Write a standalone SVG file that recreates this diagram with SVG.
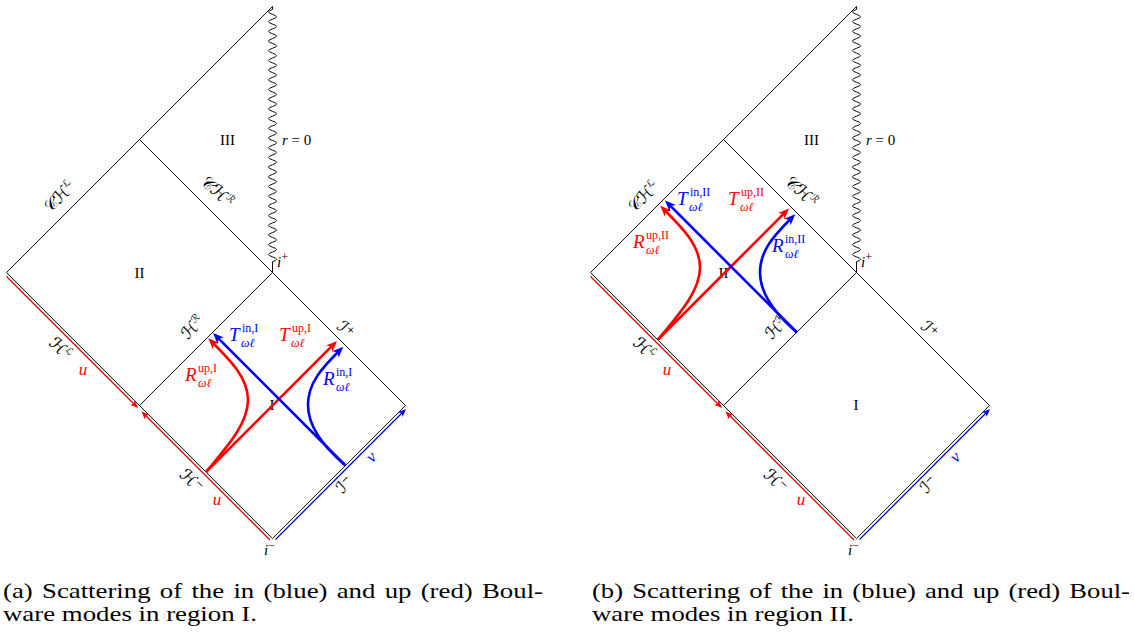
<svg xmlns="http://www.w3.org/2000/svg" width="1134" height="635" viewBox="0 0 1134 635">
<style>
.ln{fill:none;stroke:#000;stroke-width:0.95}
.rt{fill:none;stroke:#f00;stroke-width:1.3}
.bt{fill:none;stroke:#00f;stroke-width:1.3}
.rm{fill:none;stroke:#f00;stroke-width:2.6}
.bm{fill:none;stroke:#00f;stroke-width:2.6}
text{font-family:"Liberation Serif",serif}
.rn{font-size:15px;fill:#000}
.mi{font-style:italic}
.uv{font-size:17px}
.cal{font-family:"DejaVu Sans",sans-serif;font-size:17px;fill:#000}
.csup{font-size:10px}
.big{font-size:19px;font-style:italic}
.sm{font-size:12px}
.red{fill:#f00}
.blue{fill:#00f}
.cap{font-size:21px;fill:#000}
</style>
<defs>
<marker id="ahR" markerUnits="userSpaceOnUse" markerWidth="12" markerHeight="10" viewBox="0 -5 12 10" refX="5" refY="0" orient="auto"><path d="M0,-4.5 L11,0 L0,4.5 L3,0 z" fill="#f00"/></marker>
<marker id="ahB" markerUnits="userSpaceOnUse" markerWidth="12" markerHeight="10" viewBox="0 -5 12 10" refX="5" refY="0" orient="auto"><path d="M0,-4.5 L11,0 L0,4.5 L3,0 z" fill="#00f"/></marker>
<marker id="asR" markerUnits="userSpaceOnUse" markerWidth="9" markerHeight="8" viewBox="0 -4 9 8" refX="4" refY="0" orient="auto"><path d="M0,-3.2 L8,0 L0,3.2 L2,0 z" fill="#f00"/></marker>
<marker id="asB" markerUnits="userSpaceOnUse" markerWidth="9" markerHeight="8" viewBox="0 -4 9 8" refX="4" refY="0" orient="auto"><path d="M0,-3.2 L8,0 L0,3.2 L2,0 z" fill="#00f"/></marker>
</defs>

<!-- ============ Diagram (a) ============ -->
<g id="diagram-a">
  <g id="spacetime-a">
    <path class="ln" d="M6.5,272.5 L272.5,6.5 M139.5,139.5 L405.5,405.5 L272.5,538.5 L6.5,272.5 M139.5,405.5 L272.5,272.5"/>
    <path class="ln" d="M272.5,6.5 v3 q-8,2.425 0,4.85 t0,4.85 t0,4.85 t0,4.85 t0,4.85 t0,4.85 t0,4.85 t0,4.85 t0,4.85 t0,4.85 t0,4.85 t0,4.85 t0,4.85 t0,4.85 t0,4.85 t0,4.85 t0,4.85 t0,4.85 t0,4.85 t0,4.85 t0,4.85 t0,4.85 t0,4.85 t0,4.85 t0,4.85 t0,4.85 t0,4.85 t0,4.85 t0,4.85 t0,4.85 t0,4.85 t0,4.85 t0,4.85 t0,4.85 t0,4.85 t0,4.85 t0,4.85 t0,4.85 t0,4.85 t0,4.85 t0,4.85 t0,4.85 t0,4.85 t0,4.85 t0,4.85 t0,4.85 t0,4.85 t0,4.85 t0,4.85 t0,4.85 t0,4.85 t0,4.85 L272.5,272.5"/>
    <path class="rt" d="M6.5,276.5 L135.2,405.2" marker-end="url(#asR)"/>
    <path class="rt" d="M270,540 L144.3,414.3" marker-end="url(#asR)"/>
    <path class="bt" d="M275.5,539.5 L403.2,411.8" marker-end="url(#asB)"/>
  </g>
  <g id="labels-a">
    <text class="rn" x="139.5" y="278" text-anchor="middle">II</text>
    <text class="rn" x="227.5" y="145" text-anchor="middle">III</text>
    <text class="rn" x="272" y="410" text-anchor="middle">I</text>
    <text class="rn" x="282" y="145"><tspan class="mi">r</tspan> = 0</text>
    <text class="rn" x="277" y="267"><tspan class="mi">i</tspan><tspan class="sm" dy="-6">+</tspan></text>
    <text class="rn" x="264" y="555"><tspan class="mi">i</tspan><tspan class="sm" dy="-6">−</tspan></text>
    <g transform="translate(60,197) rotate(-45)"><text class="cal" text-anchor="middle" y="5">𝒞ℋ<tspan class="csup" dy="-7">ℒ</tspan></text></g>
    <g transform="translate(217,192) rotate(45)"><text class="cal" text-anchor="middle" y="5">𝒞ℋ<tspan class="csup" dy="-7">ℛ</tspan></text></g>
    <g transform="translate(193,328) rotate(-45)"><text class="cal" text-anchor="middle" y="5">ℋ<tspan class="csup" dy="-7">ℛ</tspan></text></g>
    <g transform="translate(345,330) rotate(45)"><text class="cal" text-anchor="middle" y="5">ℐ<tspan class="csup" dy="-6">+</tspan></text></g>
    <g transform="translate(60,349) rotate(45)"><text class="cal" text-anchor="middle" y="5">ℋ<tspan class="csup" dy="-7">ℒ</tspan></text></g>
    <g transform="translate(191,481) rotate(45)"><text class="cal" text-anchor="middle" y="5">ℋ<tspan class="csup" dy="-6">−</tspan></text></g>
    <g transform="translate(345,485) rotate(-45)"><text class="cal" text-anchor="middle" y="5">ℐ<tspan class="csup" dy="-6">−</tspan></text></g>
    <text class="rn uv mi red" x="83" y="375" text-anchor="middle">u</text>
    <text class="rn uv mi red" x="217" y="505" text-anchor="middle">u</text>
    <g transform="translate(372,458) rotate(-45)"><text class="rn uv mi blue" text-anchor="middle" y="4">v</text></g>
  </g>
  <g id="modes-a">
    <path class="rm" d="M206,472 L332.8,345.2" marker-end="url(#ahR)"/>
    <path class="rm" d="M206,472 C224,450 248,425 248,400 C248,378 230.5,360.5 212.5,342.5" marker-end="url(#ahR)"/>
    <path class="bm" d="M345,465 L217.2,337.2" marker-end="url(#ahB)"/>
    <path class="bm" d="M345,465 C325,448 308,428 308,405 C308,383 322,368 339,351" marker-end="url(#ahB)"/>
  </g>
  <g id="mode-labels-a">
    <text class="blue"><tspan class="big" x="229" y="341">T</tspan><tspan class="sm" x="242" y="332">in,I</tspan><tspan class="sm mi" x="241" y="347">ωℓ</tspan></text>
    <text class="red"><tspan class="big" x="279" y="341">T</tspan><tspan class="sm" x="292" y="332">up,I</tspan><tspan class="sm mi" x="291" y="347">ωℓ</tspan></text>
    <text class="red"><tspan class="big" x="185" y="381">R</tspan><tspan class="sm" x="198" y="372">up,I</tspan><tspan class="sm mi" x="198" y="387">ωℓ</tspan></text>
    <text class="blue"><tspan class="big" x="323" y="385">R</tspan><tspan class="sm" x="336" y="376">in,I</tspan><tspan class="sm mi" x="336" y="391">ωℓ</tspan></text>
  </g>
</g>

<!-- ============ Diagram (b) ============ -->
<g id="diagram-b">
  <g id="spacetime-b" transform="translate(584,0)">
    <path class="ln" d="M6.5,272.5 L272.5,6.5 M139.5,139.5 L405.5,405.5 L272.5,538.5 L6.5,272.5 M139.5,405.5 L272.5,272.5"/>
    <path class="ln" d="M272.5,6.5 v3 q-8,2.425 0,4.85 t0,4.85 t0,4.85 t0,4.85 t0,4.85 t0,4.85 t0,4.85 t0,4.85 t0,4.85 t0,4.85 t0,4.85 t0,4.85 t0,4.85 t0,4.85 t0,4.85 t0,4.85 t0,4.85 t0,4.85 t0,4.85 t0,4.85 t0,4.85 t0,4.85 t0,4.85 t0,4.85 t0,4.85 t0,4.85 t0,4.85 t0,4.85 t0,4.85 t0,4.85 t0,4.85 t0,4.85 t0,4.85 t0,4.85 t0,4.85 t0,4.85 t0,4.85 t0,4.85 t0,4.85 t0,4.85 t0,4.85 t0,4.85 t0,4.85 t0,4.85 t0,4.85 t0,4.85 t0,4.85 t0,4.85 t0,4.85 t0,4.85 t0,4.85 t0,4.85 L272.5,272.5"/>
    <path class="rt" d="M6.5,276.5 L135.2,405.2" marker-end="url(#asR)"/>
    <path class="rt" d="M270,540 L144.3,414.3" marker-end="url(#asR)"/>
    <path class="bt" d="M275.5,539.5 L403.2,411.8" marker-end="url(#asB)"/>
  </g>
  <g id="labels-b" transform="translate(584,0)">
    <text class="rn" x="139.5" y="278" text-anchor="middle">II</text>
    <text class="rn" x="227.5" y="145" text-anchor="middle">III</text>
    <text class="rn" x="272" y="410" text-anchor="middle">I</text>
    <text class="rn" x="282" y="145"><tspan class="mi">r</tspan> = 0</text>
    <text class="rn" x="277" y="267"><tspan class="mi">i</tspan><tspan class="sm" dy="-6">+</tspan></text>
    <text class="rn" x="264" y="555"><tspan class="mi">i</tspan><tspan class="sm" dy="-6">−</tspan></text>
    <g transform="translate(60,197) rotate(-45)"><text class="cal" text-anchor="middle" y="5">𝒞ℋ<tspan class="csup" dy="-7">ℒ</tspan></text></g>
    <g transform="translate(217,192) rotate(45)"><text class="cal" text-anchor="middle" y="5">𝒞ℋ<tspan class="csup" dy="-7">ℛ</tspan></text></g>
    <g transform="translate(193,328) rotate(-45)"><text class="cal" text-anchor="middle" y="5">ℋ<tspan class="csup" dy="-7">ℛ</tspan></text></g>
    <g transform="translate(345,330) rotate(45)"><text class="cal" text-anchor="middle" y="5">ℐ<tspan class="csup" dy="-6">+</tspan></text></g>
    <g transform="translate(60,349) rotate(45)"><text class="cal" text-anchor="middle" y="5">ℋ<tspan class="csup" dy="-7">ℒ</tspan></text></g>
    <g transform="translate(191,481) rotate(45)"><text class="cal" text-anchor="middle" y="5">ℋ<tspan class="csup" dy="-6">−</tspan></text></g>
    <g transform="translate(345,485) rotate(-45)"><text class="cal" text-anchor="middle" y="5">ℐ<tspan class="csup" dy="-6">−</tspan></text></g>
    <text class="rn uv mi red" x="83" y="375" text-anchor="middle">u</text>
    <text class="rn uv mi red" x="217" y="505" text-anchor="middle">u</text>
    <g transform="translate(372,458) rotate(-45)"><text class="rn uv mi blue" text-anchor="middle" y="4">v</text></g>
  </g>
  <g id="modes-b" transform="translate(452,-132.5)">
    <path class="rm" d="M206,472 L332.8,345.2" marker-end="url(#ahR)"/>
    <path class="rm" d="M206,472 C224,450 248,425 248,400 C248,378 230.5,360.5 212.5,342.5" marker-end="url(#ahR)"/>
    <path class="bm" d="M345,465 L217.2,337.2" marker-end="url(#ahB)"/>
    <path class="bm" d="M345,465 C325,448 308,428 308,405 C308,383 322,368 339,351" marker-end="url(#ahB)"/>
  </g>
  <g id="mode-labels-b">
    <text class="blue"><tspan class="big" x="677" y="205">T</tspan><tspan class="sm" x="690" y="196">in,II</tspan><tspan class="sm mi" x="689" y="211">ωℓ</tspan></text>
    <text class="red"><tspan class="big" x="728" y="205">T</tspan><tspan class="sm" x="741" y="196">up,II</tspan><tspan class="sm mi" x="740" y="211">ωℓ</tspan></text>
    <text class="red"><tspan class="big" x="633" y="248">R</tspan><tspan class="sm" x="646" y="239">up,II</tspan><tspan class="sm mi" x="646" y="254">ωℓ</tspan></text>
    <text class="blue"><tspan class="big" x="772" y="252">R</tspan><tspan class="sm" x="785" y="243">in,II</tspan><tspan class="sm mi" x="785" y="258">ωℓ</tspan></text>
  </g>
</g>

<g id="captions">
  <text class="cap" x="3" y="598" word-spacing="2" textLength="540" lengthAdjust="spacingAndGlyphs">(a) Scattering of the in (blue) and up (red) Boul-</text>
  <text class="cap" x="3" y="621" textLength="254" lengthAdjust="spacingAndGlyphs">ware modes in region I.</text>
  <text class="cap" x="592" y="598" word-spacing="2" textLength="538" lengthAdjust="spacingAndGlyphs">(b) Scattering of the in (blue) and up (red) Boul-</text>
  <text class="cap" x="592" y="621" textLength="262" lengthAdjust="spacingAndGlyphs">ware modes in region II.</text>
</g>
</svg>
